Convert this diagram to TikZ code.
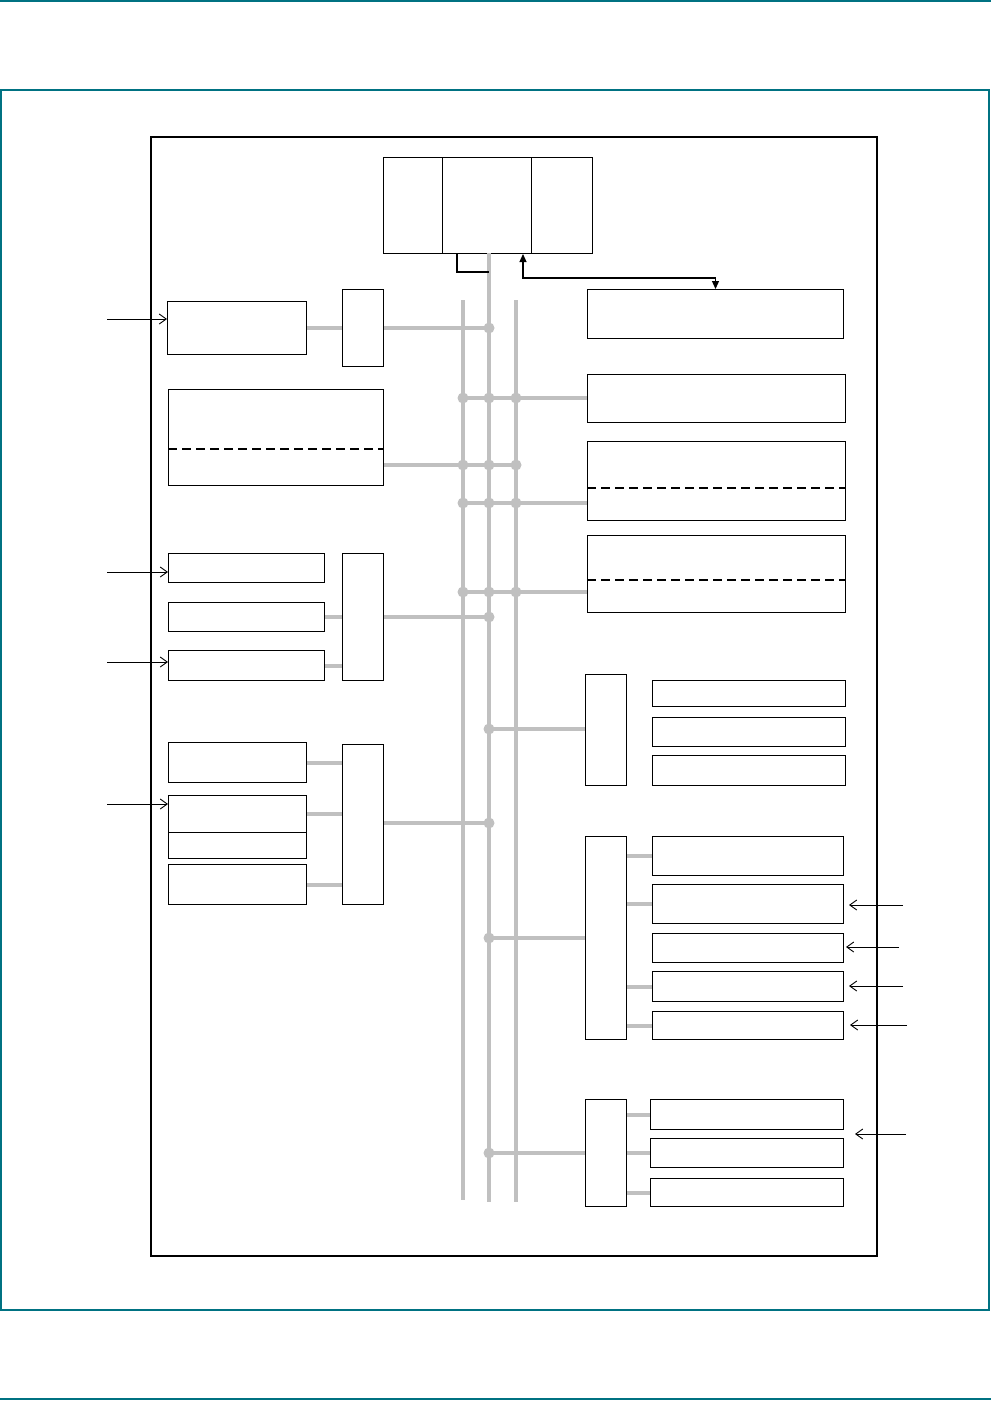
\documentclass[tikz,border=0pt]{standalone}
\usetikzlibrary{arrows.meta,positioning}
\definecolor{pageteal}{RGB}{0,114,130}
\definecolor{busgrey}{RGB}{192,192,192}
\tikzset{
  blk/.style={draw, line width=1pt, inner sep=0pt, anchor=north west},
  bus/.style={draw=busgrey, line width=4pt},
  tap/.style={circle, fill=busgrey, inner sep=0pt, minimum size=10pt},
  wire/.style={line width=1.2pt},
  pin/.style={line width=0.9pt, -{Straight Barb[length=7pt,width=10pt]}},
  split/.style={dash pattern=on 9pt off 5pt, line width=1.6pt},
}
\begin{document}
\begin{tikzpicture}[x=1pt, y=-1pt]
    \useasboundingbox (0,0) rectangle (991,1401);
    % page rules and frames
    \draw[pageteal, line width=1.5pt] (0,1) -- (991,1);
    \draw[pageteal, line width=1.5pt] (0,1399) -- (991,1399);
    \draw[pageteal, line width=1.5pt] (1,90) rectangle (989,1310);
    \draw[line width=2.5pt] (151,137) rectangle (877,1256);

    % core
    \node[blk, minimum width=59, minimum height=96] (cpuL) at (383,157) {};
    \node[blk, minimum width=89, minimum height=96] (cpuM) at (442,157) {};
    \node[blk, minimum width=61, minimum height=96] (cpuR) at (531,157) {};

    % bus lines
    \coordinate (busAtop) at (463,300);
    \coordinate (busAbot) at (463,1200);
    \coordinate (busBtop) at (489,253);
    \coordinate (busBbot) at (489,1202);
    \coordinate (busCtop) at (516,300);
    \coordinate (busCbot) at (516,1202);
    \draw[bus] (busAtop) -- (busAbot);
    \draw[bus] (busBtop) -- (busBbot);
    \draw[bus] (busCtop) -- (busCbot);

    % left blocks
    \node[blk, minimum width=139, minimum height=53] (adc) at (167,301) {};
    \node[blk, minimum width=41, minimum height=77] (brA) at (342,289) {};
    \node[blk, minimum width=215, minimum height=96] (mem) at (168,389) {};
    \node[blk, minimum width=156, minimum height=29] (ioA) at (168,553) {};
    \node[blk, minimum width=156, minimum height=29] (ioB) at (168,602) {};
    \node[blk, minimum width=156, minimum height=30] (ioC) at (168,650) {};
    \node[blk, minimum width=41, minimum height=127] (brB) at (342,553) {};
    \node[blk, minimum width=138, minimum height=40] (perA) at (168,742) {};
    \node[blk, minimum width=138, minimum height=37] (perB) at (168,795) {};
    \node[blk, minimum width=138, minimum height=26] (perC) at (168,832) {};
    \node[blk, minimum width=138, minimum height=40] (perD) at (168,864) {};
    \node[blk, minimum width=41, minimum height=160] (brC) at (342,744) {};

    % right blocks
    \node[blk, minimum width=256, minimum height=49] (ctl) at (587,289) {};
    \node[blk, minimum width=258, minimum height=48] (ram) at (587,374) {};
    \node[blk, minimum width=258, minimum height=79] (flA) at (587,441) {};
    \node[blk, minimum width=258, minimum height=77] (flB) at (587,535) {};
    \node[blk, minimum width=41, minimum height=111] (brD) at (585,674) {};
    \node[blk, minimum width=193, minimum height=26] (tmA) at (652,680) {};
    \node[blk, minimum width=193, minimum height=29] (tmB) at (652,717) {};
    \node[blk, minimum width=193, minimum height=30] (tmC) at (652,755) {};
    \node[blk, minimum width=41, minimum height=203] (brE) at (585,836) {};
    \node[blk, minimum width=191, minimum height=39] (seA) at (652,836) {};
    \node[blk, minimum width=191, minimum height=39] (seB) at (652,884) {};
    \node[blk, minimum width=191, minimum height=29] (seC) at (652,933) {};
    \node[blk, minimum width=191, minimum height=30] (seD) at (652,971) {};
    \node[blk, minimum width=191, minimum height=28] (seE) at (652,1011) {};
    \node[blk, minimum width=41, minimum height=107] (brF) at (585,1099) {};
    \node[blk, minimum width=193, minimum height=30] (cmA) at (650,1099) {};
    \node[blk, minimum width=193, minimum height=29] (cmB) at (650,1138) {};
    \node[blk, minimum width=193, minimum height=28] (cmC) at (650,1178) {};

    % dashed splits
    \draw[split] (mem.west |- 0,449) -- (mem.east |- 0,449);
    \draw[split] (flA.west |- 0,488) -- (flA.east |- 0,488);
    \draw[split] (flB.west |- 0,580) -- (flB.east |- 0,580);

    % bus taps
    \foreach \y/\n in {398/r, 465/m, 503/f, 592/g} {
      \node[tap] (ta\n) at (463,\y) {};
      \node[tap] (tb\n) at (489,\y) {};
      \node[tap] (tc\n) at (516,\y) {};
    }
    \foreach \y/\n in {328/a, 617/i, 729/t, 823/p, 938/s, 1153/c}
      \node[tap] (tb\n) at (489,\y) {};

    % bus connections
    \draw[bus] (adc) -- (brA);
    \draw[bus] (brA.east |- tba) -- (tba);
    \draw[bus] (tar) -- (tar -| ram.west);
    \draw[bus] (mem.east |- tcm) -- (tcm);
    \draw[bus] (taf) -- (taf -| flA.west);
    \draw[bus] (tag) -- (tag -| flB.west);
    \draw[bus] (ioB) -- (ioB -| brB.west);
    \draw[bus] (ioC) -- (ioC -| brB.west);
    \draw[bus] (brB.east |- tbi) -- (tbi);
    \draw[bus] (perA) -- (perA -| brC.west);
    \draw[bus] (perB) -- (perB -| brC.west);
    \draw[bus] (perD) -- (perD -| brC.west);
    \draw[bus] (brC.east |- tbp) -- (tbp);
    \draw[bus] (tbt) -- (tbt -| brD.west);
    \draw[bus] (tbs) -- (tbs -| brE.west);
    \foreach \b in {seA, seB, seD, seE}
      \draw[bus] (\b.west -| brE.east) -- (\b.west);
    \draw[bus] (tbc) -- (tbc -| brF.west);
    \foreach \b in {cmA, cmB, cmC}
      \draw[bus] (\b.west -| brF.east) -- (\b.west);

    % redraw taps on top
    \foreach \n in {ar, br, cr, am, bm, cm, af, bf, cf, ag, bg, cg, ba, bi, bt, bp, bs, bc}
      \fill[busgrey] (t\n) circle (5.5pt);

    % core links
    \coordinate (kink) at (457,272);
    \draw[wire] (kink |- cpuM.south) -- (kink) -- (kink -| busBtop);
    \coordinate (turn) at (523,278);
    \draw[wire, {Triangle[length=8pt,width=7pt]}-{Triangle[length=8pt,width=7pt]}]
      (turn |- cpuM.south) -- (turn) -| (ctl.north);

    % external inputs
    \coordinate (inA) at (107,319);
    \coordinate (inB) at (107,572);
    \coordinate (inC) at (107,662);
    \coordinate (inD) at (107,804);
    \draw[pin] (inA) -- (inA -| adc.west);
    \draw[pin] (inB) -- (inB -| ioA.west);
    \draw[pin] (inC) -- (inC -| ioC.west);
    \draw[pin] (inD) -- (inD -| perB.west);
    \foreach \x/\y/\l in {903/905/54, 899/947/53, 903/986/54, 907/1025/57, 906/1134/51}
      \draw[pin] (\x,\y) -- ++(-\l,0);
  \end{tikzpicture}
\end{document}
